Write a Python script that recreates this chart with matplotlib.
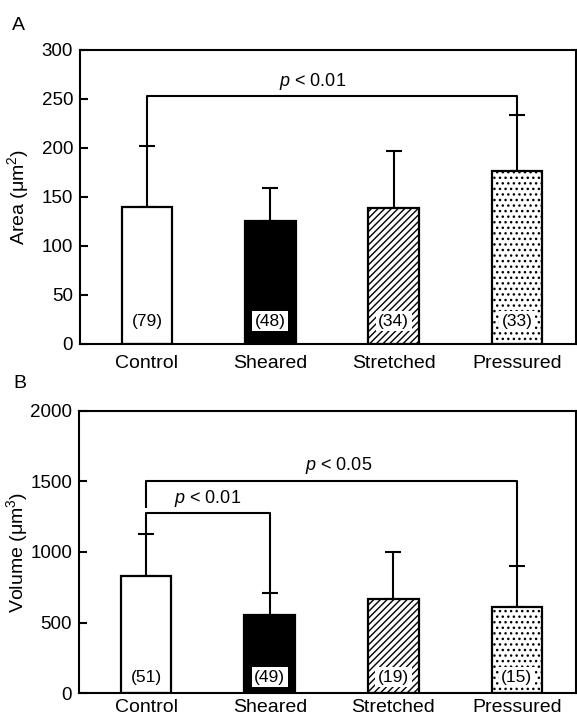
import numpy as np
import matplotlib
matplotlib.use("Agg")
import matplotlib.pyplot as plt

plt.rcParams['font.family'] = ['Liberation Sans', 'DejaVu Sans']
plt.rcParams['mathtext.fontset'] = 'custom'
plt.rcParams['mathtext.rm'] = 'Liberation Sans'
plt.rcParams['mathtext.it'] = 'Liberation Sans:italic'
plt.rcParams['hatch.linewidth'] = 1.0

# data
groups = ['Control', 'Sheared', 'Stretched', 'Pressured']
area_mean = [140, 125, 139, 177]
area_sd = [62, 34, 58, 57]
area_n = ['(79)', '(48)', '(34)', '(33)']
volume_mean = [832, 553, 669, 612]
volume_sd = [296, 158, 329, 291]
volume_n = ['(51)', '(49)', '(19)', '(15)']

# significance brackets: (group i, group j, height, label, text shift)
area_sig = [(0, 3, 253, '$\\it{p}$ < 0.01', -0.16)]
volume_sig = [(0, 3, 1506, '$\\it{p}$ < 0.05', 0.06),
              (0, 1, 1274, '$\\it{p}$ < 0.01', 0.0)]

fills = ['white', 'black', 'white', 'white']
hatches = [None, None, '/////', '...']


def panel(ax, means, sds, ns, sigs, ymax, ystep, ylabel, n_off, xpad):
    x = np.arange(len(groups))
    ax.bar(x, means, width=0.41, color=fills, edgecolor='black',
           linewidth=1.6, hatch=hatches, zorder=2)
    ax.errorbar(x, means, yerr=[np.zeros(len(sds)), sds], fmt='none',
                ecolor='black', elinewidth=1.5, capsize=6, capthick=1.5, zorder=1)
    for xi, lab in zip(x, ns):
        ax.annotate(lab, (xi, 0), xytext=(0, n_off), textcoords='offset points',
                    ha='center', va='center', fontsize=12.5, zorder=4,
                    bbox=dict(boxstyle='square,pad=0.15', fc='white', ec='none'))
    tops = np.array(means) + np.array(sds)
    for k, (i, j, h, lab, shift) in enumerate(sigs):
        lo_i = tops[i]
        if len(sigs) > 1 and k == 0:
            # outer bracket starts just above the inner one
            lo_i = sigs[1][2] + 0.02 * ymax
        ax.plot([i, i, j, j], [lo_i, h, h, tops[j]], color='black', lw=1.5,
                solid_capstyle='butt', zorder=1)
        ax.text((i + j) / 2 + shift, h + 0.015 * ymax, lab,
                ha='center', va='bottom', fontsize=13)
    ax.set_xlim(-0.543, 3.479)
    ax.set_ylim(0, ymax)
    ax.set_yticks(np.arange(0, ymax + 1, ystep))
    ax.set_xticks(x)
    ax.set_xticklabels(groups, fontsize=14)
    ax.tick_params(axis='x', length=0, pad=xpad)
    ax.tick_params(axis='y', direction='in', length=6, width=1.5, labelsize=13.5, pad=5)
    ax.set_ylabel(ylabel, fontsize=14)
    ax.yaxis.set_label_coords(-0.098, 0.5)
    for s in ax.spines.values():
        s.set_linewidth(1.5)


fig = plt.figure(figsize=(5.77, 7.21), dpi=100)
axA = fig.add_axes([0.1386, 0.5229, 0.86, 0.4078])
axB = fig.add_axes([0.1370, 0.0388, 0.8615, 0.3912])

panel(axA, area_mean, area_sd, area_n, area_sig, 300, 50, 'Area (μm$^2$)', 16.5, 8)
panel(axB, volume_mean, volume_sd, volume_n, volume_sig, 2000, 500, 'Volume (μm$^3$)', 11.5, 4)

fig.text(18 / 577, 1 - 25 / 721, 'A', fontsize=14, ha='center', va='center')
fig.text(20 / 577, 1 - 383 / 721, 'B', fontsize=14, ha='center', va='center')

fig.savefig('out.png', dpi=100)
